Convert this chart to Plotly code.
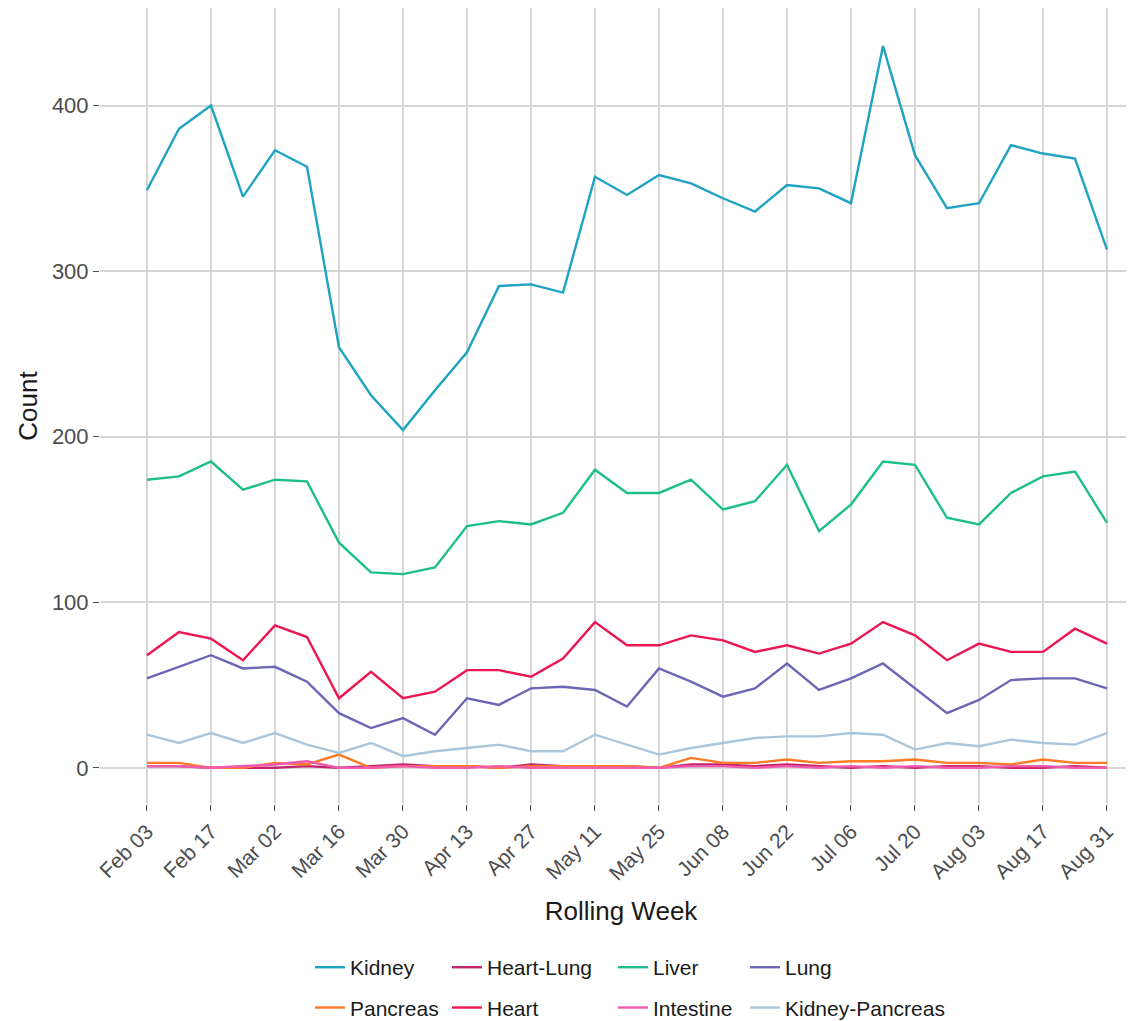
import plotly.graph_objects as go

weeks = ["2020-02-03", "2020-02-10", "2020-02-17", "2020-02-24", "2020-03-02", "2020-03-09",
         "2020-03-16", "2020-03-23", "2020-03-30", "2020-04-06", "2020-04-13", "2020-04-20",
         "2020-04-27", "2020-05-04", "2020-05-11", "2020-05-18", "2020-05-25", "2020-06-01",
         "2020-06-08", "2020-06-15", "2020-06-22", "2020-06-29", "2020-07-06", "2020-07-13",
         "2020-07-20", "2020-07-27", "2020-08-03", "2020-08-10", "2020-08-17", "2020-08-24",
         "2020-08-31"]

kidney = [349, 386, 400, 345, 373, 363, 254, 225, 204, 228, 251, 291, 292, 287, 357,
          346, 358, 353, 344, 336, 352, 350, 341, 436, 370, 338, 341, 376, 371, 368, 313]
heart_lung = [1, 1, 0, 0, 0, 1, 0, 1, 2, 1, 1, 0, 2, 1, 1, 1, 0, 2, 2, 1, 2, 1, 0, 1,
              0, 1, 1, 0, 0, 1, 0]
liver = [174, 176, 185, 168, 174, 173, 136, 118, 117, 121, 146, 149, 147, 154, 180,
         166, 166, 174, 156, 161, 183, 143, 159, 185, 183, 151, 147, 166, 176, 179, 148]
lung = [54, 61, 68, 60, 61, 52, 33, 24, 30, 20, 42, 38, 48, 49, 47,
        37, 60, 52, 43, 48, 63, 47, 54, 63, 48, 33, 41, 53, 54, 54, 48]
pancreas = [3, 3, 0, 0, 3, 2, 8, 0, 1, 1, 1, 0, 1, 1, 1,
            1, 0, 6, 3, 3, 5, 3, 4, 4, 5, 3, 3, 2, 5, 3, 3]
heart = [68, 82, 78, 65, 86, 79, 42, 58, 42, 46, 59, 59, 55, 66, 88,
         74, 74, 80, 77, 70, 74, 69, 75, 88, 80, 65, 75, 70, 70, 84, 75]
intestine = [1, 1, 0, 1, 2, 4, 0, 0, 1, 0, 0, 1, 0, 0, 0,
             0, 0, 1, 1, 0, 1, 0, 1, 0, 1, 0, 0, 1, 1, 0, 0]
kidney_pancreas = [20, 15, 21, 15, 21, 14, 9, 15, 7, 10, 12, 14, 10, 10, 20,
                   14, 8, 12, 15, 18, 19, 19, 21, 20, 11, 15, 13, 17, 15, 14, 21]

series = [
    ("Kidney", kidney, "#1FA3C3", "legend"),
    ("Heart-Lung", heart_lung, "#C4256A", "legend2"),
    ("Liver", liver, "#1DBE8C", "legend3"),
    ("Lung", lung, "#6C66B5", "legend4"),
    ("Pancreas", pancreas, "#FF7A26", "legend"),
    ("Heart", heart, "#EC1651", "legend2"),
    ("Intestine", intestine, "#F25AAE", "legend3"),
    ("Kidney-Pancreas", kidney_pancreas, "#A9C6DC", "legend4"),
]

fig = go.Figure()
for name, vals, color, leg in series:
    fig.add_trace(go.Scatter(
        x=weeks, y=vals, name=name, mode="lines",
        line=dict(color=color, width=2.4),
        legend=leg, legendgroup=name,
    ))

font_family = "Liberation Sans, Arial, sans-serif"
leg_common = dict(orientation="v", yanchor="bottom", xanchor="left",
                  font=dict(family=font_family, size=21, color="#1a1a1a"),
                  bgcolor="rgba(0,0,0,0)", tracegroupgap=10, itemwidth=30)
leg_y = -0.2815

fig.update_layout(
    width=1134, height=1021,
    margin=dict(l=92, r=0, t=0, b=225),
    paper_bgcolor="white", plot_bgcolor="white",
    font=dict(family=font_family, size=21, color="#4D4D4D"),
    legend=dict(x=0.2015, y=leg_y, **leg_common),
    legend2=dict(x=0.333, y=leg_y, **leg_common),
    legend3=dict(x=0.4923, y=leg_y, **leg_common),
    legend4=dict(x=0.619, y=leg_y, **leg_common),
)

fig.update_xaxes(
    type="date",
    range=["2020-01-23 17:17:00", "2020-09-07 15:50:00"],
    tick0="2020-02-03", dtick=14 * 86400000, tickformat="%b %d",
    tickangle=-45, ticks="outside", ticklen=6, tickcolor="#4D4D4D", tickwidth=1,
    showgrid=True, gridcolor="#D6D6D6", gridwidth=2,
    zeroline=False, showline=False,
    tickfont=dict(size=21, color="#4D4D4D"),
    title=dict(text="Rolling Week", font=dict(size=26, color="#1a1a1a"), standoff=18),
)
fig.update_yaxes(
    range=[-21.85, 458.9],
    tickvals=[0, 100, 200, 300, 400],
    ticks="outside", ticklen=6, tickcolor="#4D4D4D", tickwidth=1,
    showgrid=True, gridcolor="#D6D6D6", gridwidth=2,
    zeroline=False, showline=False,
    tickfont=dict(size=22, color="#4D4D4D"),
    title=dict(text="Count", font=dict(size=26, color="#1a1a1a"), standoff=6),
)

fig.write_html("out.html")
